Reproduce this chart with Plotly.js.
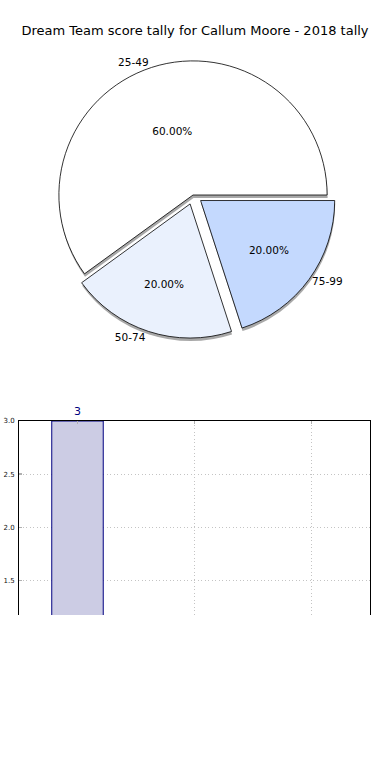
<!DOCTYPE html>
<html>
<head>
<meta charset="utf-8">
<script src="https://cdn.plot.ly/plotly-3.0.1.min.js"></script>
<style>html,body{margin:0;padding:0;background:#fff;}#chart{width:390px;height:780px;}</style>
</head>
<body>
<div id="chart"></div>
<script>
// Data
const titleText = "Dream Team score tally for Callum Moore - 2018 tally";
const pieLabels = ["25-49", "50-74", "75-99"];
const pieValues = [3, 1, 1];
const piePull = [0, 0.07, 0.07];
const pieColors = ["#ffffff", "#eaf1fd", "#c4d9fe"];
const barCategories = [0];
const barValues = [3];
const barText = ["3"];
const yTicks = [1.5, 2.0, 2.5, 3.0];
const xTicks = [0, 1, 2];

const W = 390, H = 780;
const font = "DejaVu Sans, sans-serif";

function pieDomain(cx, cy, half) {
  return {x: [(cx - half) / W, (cx + half) / W], y: [(H - cy - half) / H, (H - cy + half) / H]};
}
const half = 143.5;
const dMain = pieDomain(193, 195, half);
const dShadow = pieDomain(193.5, 198, half);

const common = {
  type: "pie", labels: pieLabels, values: pieValues, pull: piePull,
  sort: false, direction: "counterclockwise", rotation: -126,
  hoverinfo: "skip", showlegend: false
};

const traces = [
  Object.assign({}, common, {
    domain: dShadow,
    marker: {colors: pieColors.map(() => "#9a9a9a"), line: {width: 0}},
    textinfo: "none", opacity: 0.85
  }),
  Object.assign({}, common, {
    domain: dMain,
    marker: {colors: pieColors, line: {color: "#000000", width: 0.8}},
    texttemplate: "%{percent:.2%}", textposition: "inside",
    insidetextorientation: "horizontal",
    textfont: {family: font, size: 10.5, color: "#000"}
  }),
  Object.assign({}, common, {
    domain: dMain,
    marker: {colors: pieColors.map(() => "rgba(0,0,0,0)"), line: {width: 0}},
    texttemplate: "%{label}", textposition: "outside",
    outsidetextfont: {family: font, size: 10.5, color: "#000"}
  }),
  {
    type: "bar", x: barCategories, y: barValues, width: 0.44,
    text: barText, textposition: "outside", cliponaxis: false,
    textfont: {family: font, size: 11, color: "#000080"},
    marker: {color: "#ccccE4", line: {color: "#000080", width: 1}},
    xaxis: "x", yaxis: "y", hoverinfo: "skip", showlegend: false
  }
];

const layout = {
  width: W, height: H,
  margin: {l: 0, r: 0, t: 0, b: 0},
  paper_bgcolor: "#fff", plot_bgcolor: "#fff",
  font: {family: font, color: "#000"},
  title: {text: titleText, font: {family: font, size: 13, color: "#000"},
          x: 0.5, xanchor: "center", y: 1 - 30 / H, yanchor: "middle", xref: "paper", yref: "container"},
  xaxis: {
    domain: [19 / W, 370 / W], range: [-0.5, 2.5],
    tickvals: xTicks, showticklabels: false, side: "top",
    showline: true, linecolor: "#000", linewidth: 1,
    ticks: "inside", ticklen: 3, tickcolor: "#b0b0b0", tickwidth: 1.5,
    showgrid: true, gridcolor: "#c4c4c4", griddash: "1px,2.5px", gridwidth: 1,
    zeroline: false, fixedrange: true
  },
  yaxis: {
    domain: [(H - 615) / H, (H - 421) / H], range: [1.175, 3.0],
    tickvals: yTicks, ticktext: yTicks.map(v => v.toFixed(1)),
    tickfont: {family: font, size: 7, color: "#111"},
    showline: true, mirror: true, linecolor: "#000", linewidth: 1,
    ticks: "inside", ticklen: 3, tickcolor: "#b0b0b0", tickwidth: 1.5,
    showgrid: true, gridcolor: "#c4c4c4", griddash: "1px,2.5px", gridwidth: 1,
    zeroline: false, fixedrange: true, ticklabelstandoff: 2
  },
  bargap: 0
};

Plotly.newPlot("chart", traces, layout, {displayModeBar: false, staticPlot: true});
</script>
</body>
</html>
